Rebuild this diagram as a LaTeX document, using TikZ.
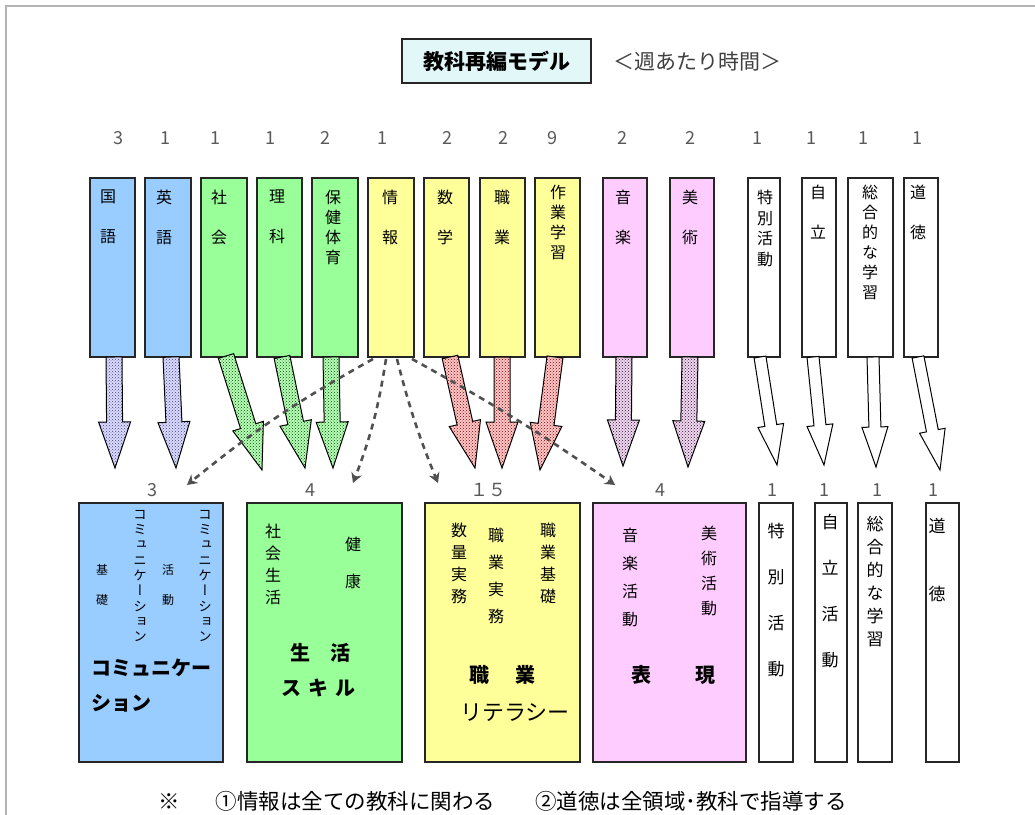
\documentclass[tikz,border=0pt]{standalone}
\usepackage{fontspec}
\setmainfont{Noto Sans CJK JP}
\newfontfamily\jpv{Noto Sans CJK JP}[RawFeature=+vert]
\usetikzlibrary{calc,patterns,arrows.meta}
\definecolor{cblue}{HTML}{99CCFF}
\definecolor{cgreen}{HTML}{99FF99}
\definecolor{cyellow}{HTML}{FFFF99}
\definecolor{cpink}{HTML}{FFCCFF}
\definecolor{ctitle}{HTML}{E2F8F8}
\definecolor{cframe}{HTML}{B4B4B4}
\definecolor{dashcol}{HTML}{505050}
\newcommand\barrow[6]{\path[#3] let \p1=(#1), \p2=(#2), \n1={atan2(\y2-\y1,\x2-\x1)}, \n2={veclen(\x2-\x1,\y2-\y1)} in [shift={(\p1)}, rotate=\n1] (0,-#4) -- ({\n2-#6},-#4) -- ({\n2-#6},-#5) -- (\n2,0) -- ({\n2-#6},#5) -- ({\n2-#6},#4) -- (0,#4) -- cycle;}
\tikzset{
  box/.style={draw=black!85, line width=1.2pt, inner sep=0pt, outer sep=0pt, anchor=north west},
  vt/.style 2 args={align=center, inner sep=0pt, anchor=north, font=\jpv\fontsize{#1}{#2}\selectfont},
  num/.style={inner sep=0pt, text=black!65, font=\fontsize{18}{18}\selectfont},
  big/.style={inner sep=0pt, font=\bfseries\fontsize{20}{20}\selectfont},
  arblue/.style={preaction={fill=blue!14}, pattern=crosshatch dots, pattern color=blue!35!black!75, draw=black, line width=1pt},
  argreen/.style={preaction={fill=green!28}, pattern=crosshatch dots, pattern color=green!30!black, draw=black, line width=1pt},
  arred/.style={preaction={fill=red!22}, pattern=crosshatch dots, pattern color=red!50!black, draw=black, line width=1pt},
  arpink/.style={preaction={fill=violet!14}, pattern=crosshatch dots, pattern color=violet!50!black, draw=black, line width=1pt},
  arwhite/.style={fill=white, draw=black, line width=1pt},
  dashed arrow/.style={draw=dashcol, line width=2.6pt, dash pattern=on 6pt off 5pt, -{Stealth[length=10pt,width=11pt]}}
}
\begin{document}
\begin{tikzpicture}[x=1pt,y=-1pt]
\useasboundingbox (0,0) rectangle (1035,814);
\clip (0,0) rectangle (1035,814);
% frame
\draw[cframe, line width=2.5pt] (6,816) -- (6,6) -- (1036,6);
% title
\node[box, fill=ctitle, minimum width=189pt, minimum height=44pt] (title) at (402,39) {};
\node[inner sep=0pt, font=\bfseries\fontsize{21}{21}\selectfont] (titletext) at (title.center) {教科再編モデル};
\node[inner sep=0pt, text=black!75, font=\fontsize{21}{21}\selectfont] (unit) at (697,62) {＜週あたり時間＞};
% top boxes
\node[box, fill=cblue,   minimum width=45pt, minimum height=179pt] (t1) at (90,178) {};
\node[box, fill=cblue,   minimum width=46pt, minimum height=179pt] (t2) at (145,178) {};
\node[box, fill=cgreen,  minimum width=46pt, minimum height=179pt] (t3) at (201,178) {};
\node[box, fill=cgreen,  minimum width=45pt, minimum height=179pt] (t4) at (257,178) {};
\node[box, fill=cgreen,  minimum width=46pt, minimum height=179pt] (t5) at (312,178) {};
\node[box, fill=cyellow, minimum width=46pt, minimum height=179pt] (t6) at (368,178) {};
\node[box, fill=cyellow, minimum width=45pt, minimum height=179pt] (t7) at (424,178) {};
\node[box, fill=cyellow, minimum width=45pt, minimum height=179pt] (t8) at (480,178) {};
\node[box, fill=cyellow, minimum width=45pt, minimum height=179pt] (t9) at (535,178) {};
\node[box, fill=cpink,   minimum width=44pt, minimum height=179pt] (t10) at (603,178) {};
\node[box, fill=cpink,   minimum width=44pt, minimum height=179pt] (t11) at (670,178) {};
\node[box, fill=white,   minimum width=32pt, minimum height=179pt] (t12) at (748,178) {};
\node[box, fill=white,   minimum width=34pt, minimum height=179pt] (t13) at (802,178) {};
\node[box, fill=white,   minimum width=45pt, minimum height=179pt] (t14) at (848,178) {};
\node[box, fill=white,   minimum width=34pt, minimum height=179pt] (t15) at (904,178) {};
% top labels
\node[vt={16}{40}] (l1) at (108,190) {国\\語};
\node[vt={16}{40}] (l2) at (164,190) {英\\語};
\node[vt={16}{40}] (l3) at (219,190) {社\\会};
\node[vt={16}{40}] (l4) at (277,190) {理\\科};
\node[vt={16}{20}] (l5) at (333,190) {保\\健\\体\\育};
\node[vt={16}{40}] (l6) at (390,190) {情\\報};
\node[vt={16}{40}] (l7) at (445,190) {数\\学};
\node[vt={16}{40}] (l8) at (502,190) {職\\業};
\node[vt={16}{20}] (l9) at (558,185) {作\\業\\学\\習};
\node[vt={16}{40}] (l10) at (623,190) {音\\楽};
\node[vt={16}{40}] (l11) at (690,190) {美\\術};
\node[vt={16}{20.5}] (l12) at (765,190) {特\\別\\活\\動};
\node[vt={16}{40}] (l13) at (818,185) {自\\立};
\node[vt={16}{20}] (l14) at (870,185) {総\\合\\的\\な\\学\\習};
\node[vt={16}{40}] (l15) at (918,185) {道\\徳};
% top numbers
\node[num] (n1) at (118,138) {3};
\node[num] (n2) at (165,138) {1};
\node[num] (n3) at (215,138) {1};
\node[num] (n4) at (270,138) {1};
\node[num] (n5) at (325,138) {2};
\node[num] (n6) at (382,138) {1};
\node[num] (n7) at (447,138) {2};
\node[num] (n8) at (503,138) {2};
\node[num] (n9) at (552,138) {9};
\node[num] (n10) at (622,138) {2};
\node[num] (n11) at (690,138) {2};
\node[num] (n12) at (757,138) {1};
\node[num] (n13) at (811,138) {1};
\node[num] (n14) at (863,138) {1};
\node[num] (n15) at (917,138) {1};
% bottom boxes
\node[box, fill=cblue,   minimum width=144pt, minimum height=259pt] (b1) at (79,503) {};
\node[box, fill=cgreen,  minimum width=155pt, minimum height=259pt] (b2) at (247,503) {};
\node[box, fill=cyellow, minimum width=155pt, minimum height=259pt] (b3) at (425,503) {};
\node[box, fill=cpink,   minimum width=153pt, minimum height=259pt] (b4) at (593,503) {};
\node[box, fill=white,   minimum width=34pt,  minimum height=259pt] (b5) at (759,503) {};
\node[box, fill=white,   minimum width=32pt,  minimum height=259pt] (b6) at (815,503) {};
\node[box, fill=white,   minimum width=34pt,  minimum height=259pt] (b7) at (858,503) {};
\node[box, fill=white,   minimum width=33pt,  minimum height=259pt] (b8) at (926,503) {};
% bottom numbers
\node[num] (m1) at (152,490) {3};
\node[num] (m2) at (310,490) {4};
\node[num] (m3) at (488,490) {１５};
\node[num] (m4) at (660,490) {4};
\node[num] (m5) at (772,490) {1};
\node[num] (m6) at (824,490) {1};
\node[num] (m7) at (877,490) {1};
\node[num] (m8) at (933,490) {1};
% blue box contents
\node[vt={12}{30}] (c1) at (102,564) {基\\礎};
\node[vt={13.5}{15.3}] (c2) at (140,510) {コ\\ミ\\ュ\\ニ\\ケ\\ー\\シ\\ョ\\ン};
\node[vt={12}{30}] (c3) at (168,564) {活\\動};
\node[vt={13.5}{15.3}] (c4) at (205,510) {コ\\ミ\\ュ\\ニ\\ケ\\ー\\シ\\ョ\\ン};
\node[big, anchor=west] (c5) at (91,668) {コミュニケー};
\node[big, anchor=west] (c6) at (91,703) {ション};
% green box contents
\node[vt={16}{22}] (g1) at (273,524) {社\\会\\生\\活};
\node[vt={16}{37}] (g2) at (353,537) {健\\康};
\node[big] (g3) at (320,653) {生　活};
\node[big] (g4) at (318,688) {ス\hspace{7pt}キ\hspace{7pt}ル};
% yellow box contents
\node[vt={16}{22}] (y1) at (459,523) {数\\量\\実\\務};
\node[vt={16}{27}] (y2) at (496,528) {職\\業\\実\\務};
\node[vt={16}{22}] (y3) at (548,523) {職\\業\\基\\礎};
\node[big] (y4) at (502,675) {職\hspace{26pt}業};
\node[inner sep=0pt, font=\fontsize{22}{22}\selectfont] (y5) at (515,713) {リテラシー};
% pink box contents
\node[vt={16}{28}] (p1) at (630,528) {音\\楽\\活\\動};
\node[vt={16}{25}] (p2) at (709,526) {美\\術\\活\\動};
\node[big] (p3) at (641,675) {表};
\node[big] (p4) at (705,675) {現};
% white bottom boxes contents
\node[vt={17}{46}] (w1) at (776,522.5) {特\\別\\活\\動};
\node[vt={17}{46}] (w2) at (830,513.5) {自\\立\\活\\動};
\node[vt={17}{23}] (w3) at (875,515.5) {総\\合\\的\\な\\学\\習};
\node[vt={17}{68}] (w4) at (937,518.5) {道\\徳};
% block arrows
\coordinate (s1) at (114,357); \coordinate (e1) at (115,468);
\coordinate (s2) at (171,357); \coordinate (e2) at (176,468);
\coordinate (s3) at (226,356); \coordinate (e3) at (262,470);
\coordinate (s4) at (282,357); \coordinate (e4) at (305,468);
\coordinate (s5) at (331,357); \coordinate (e5) at (333,468);
\coordinate (s7) at (450,357); \coordinate (e7) at (475,468);
\coordinate (s8) at (502,357); \coordinate (e8) at (502,468);
\coordinate (s9) at (555,357); \coordinate (e9) at (540,470);
\coordinate (s10) at (624,357); \coordinate (e10) at (623,466);
\coordinate (s11) at (690,357); \coordinate (e11) at (688,467);
\coordinate (s12) at (760,357); \coordinate (e12) at (777,465);
\coordinate (s13) at (813,357); \coordinate (e13) at (824,465);
\coordinate (s14) at (873,357); \coordinate (e14) at (876,467);
\coordinate (s15) at (918,357); \coordinate (e15) at (940,470);
\barrow{s1}{e1}{arblue}{8}{16}{46}
\barrow{s2}{e2}{arblue}{8}{16}{46}
\barrow{s3}{e3}{argreen}{8}{16}{46}
\barrow{s4}{e4}{argreen}{8}{16}{46}
\barrow{s5}{e5}{argreen}{8}{16}{46}
\barrow{s7}{e7}{arred}{8}{16}{46}
\barrow{s8}{e8}{arred}{8}{16}{46}
\barrow{s9}{e9}{arred}{8}{16}{46}
\barrow{s10}{e10}{arpink}{8}{16}{46}
\barrow{s11}{e11}{arpink}{8}{16}{46}
\barrow{s12}{e12}{arwhite}{6}{13}{40}
\barrow{s13}{e13}{arwhite}{6}{13}{40}
\barrow{s14}{e14}{arwhite}{6}{13}{40}
\barrow{s15}{e15}{arwhite}{6}{13}{40}
% dashed connectors from 情報
\coordinate (d1) at (187,485);
\coordinate (d2) at (353,483);
\coordinate (d3) at (438,483);
\coordinate (d4) at (615,485);
\draw[dashed arrow] ($(t6.south)+(-18,2)$) to[bend right=5] (d1);
\draw[dashed arrow] ($(t6.south)+(-5,2)$) to[bend left=6] (d2);
\draw[dashed arrow] ($(t6.south)+(6,2)$) to[bend right=4] (d3);
\draw[dashed arrow] ($(t6.south)+(21,2)$) to[bend left=3] (d4);
% footnote
\node[inner sep=0pt, anchor=west, font=\fontsize{21.5}{21.5}\selectfont] (foot) at (158,801) {※\hspace{36pt}①情報は全ての教科に関わる\hspace{40pt}②道徳は全領域･教科で指導する};
\end{tikzpicture}
\end{document}
